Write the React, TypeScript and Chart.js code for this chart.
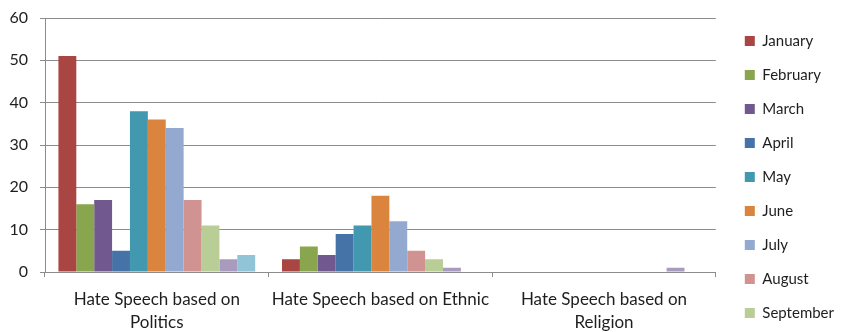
import React, { useEffect, useRef } from "react";
import { Chart, registerables } from "chart.js";

Chart.register(...registerables);

const categories: (string | string[])[] = [
  ["Hate Speech based on", "Politics"],
  "Hate Speech based on Ethnic",
  ["Hate Speech based on", "Religion"],
];
const months = [
  "January", "February", "March", "April", "May", "June",
  "July", "August", "September", "October", "November",
];
const politics = [51, 16, 17, 5, 38, 36, 34, 17, 11, 3, 4];
const ethnic = [3, 6, 4, 9, 11, 18, 12, 5, 3, 1, 0];
const religion = [0, 0, 0, 0, 0, 0, 0, 0, 0, 1, 0];
const yTicks = [0, 10, 20, 30, 40, 50, 60];
const colors = [
  "#A94543", "#89A54E", "#71588F", "#4572A7", "#4198AF", "#DB843D",
  "#93A9CF", "#D19392", "#B9CD96", "#A99BBD", "#92C4D8",
];

const FONT = "Lato";
const GRID = "#8c8c8c";
const TEXT = "#1e1e1e";

export default function App() {
  const ref = useRef<HTMLCanvasElement | null>(null);
  useEffect(() => {
    if (!ref.current) return;
    const chart = new Chart(ref.current, {
      type: "bar",
      data: {
        labels: categories,
        datasets: months.map((m, i) => ({
          label: m,
          data: [politics[i], ethnic[i], religion[i]],
          backgroundColor: colors[i],
          borderWidth: 0,
          barPercentage: 1,
          categoryPercentage: 0.88,
        })),
      },
      options: {
        animation: false,
        responsive: false,
        devicePixelRatio: 1,
        layout: { padding: 0 },
        plugins: {
          tooltip: { enabled: false },
          legend: {
            position: "right",
            align: "center",
            labels: {
              boxWidth: 10,
              boxHeight: 10,
              padding: 19,
              color: TEXT,
              font: { family: FONT, size: 15 },
            },
          },
        },
        scales: {
          x: {
            grid: {
              drawOnChartArea: false,
              drawTicks: true,
              tickLength: 5,
              color: GRID,
            },
            border: { display: true, color: GRID },
            ticks: {
              autoSkip: false,
              maxRotation: 0,
              minRotation: 0,
              padding: 11,
              color: TEXT,
              font: { family: FONT, size: 17, lineHeight: 1.35 },
            },
            afterFit: (s: any) => {
              s.height = 142;
            },
          },
          y: {
            min: 0,
            max: 60,
            afterBuildTicks: (s: any) => {
              s.ticks = yTicks.map((v) => ({ value: v }));
            },
            grid: { color: GRID, tickLength: 5 },
            border: { display: true, color: GRID },
            ticks: {
              padding: 12,
              color: TEXT,
              font: { family: FONT, size: 16, lineHeight: 1.25 },
            },
            afterFit: (s: any) => {
              s.width = 37;
              s.paddingTop = 10;
              s.paddingBottom = 0;
            },
          },
          y2: {
            position: "right",
            display: true,
            grid: { display: false, drawTicks: false },
            border: { display: false },
            ticks: { display: false },
            afterFit: (s: any) => {
              s.width = 10;
              s.paddingTop = 0;
              s.paddingBottom = 0;
            },
          },
        },
      },
    } as any);
    return () => chart.destroy();
  }, []);
  return (
    <div style={{ width: 837, height: 324, overflow: "hidden" }}>
      <canvas ref={ref} width={836} height={406} style={{ display: "block" }} />
    </div>
  );
}
